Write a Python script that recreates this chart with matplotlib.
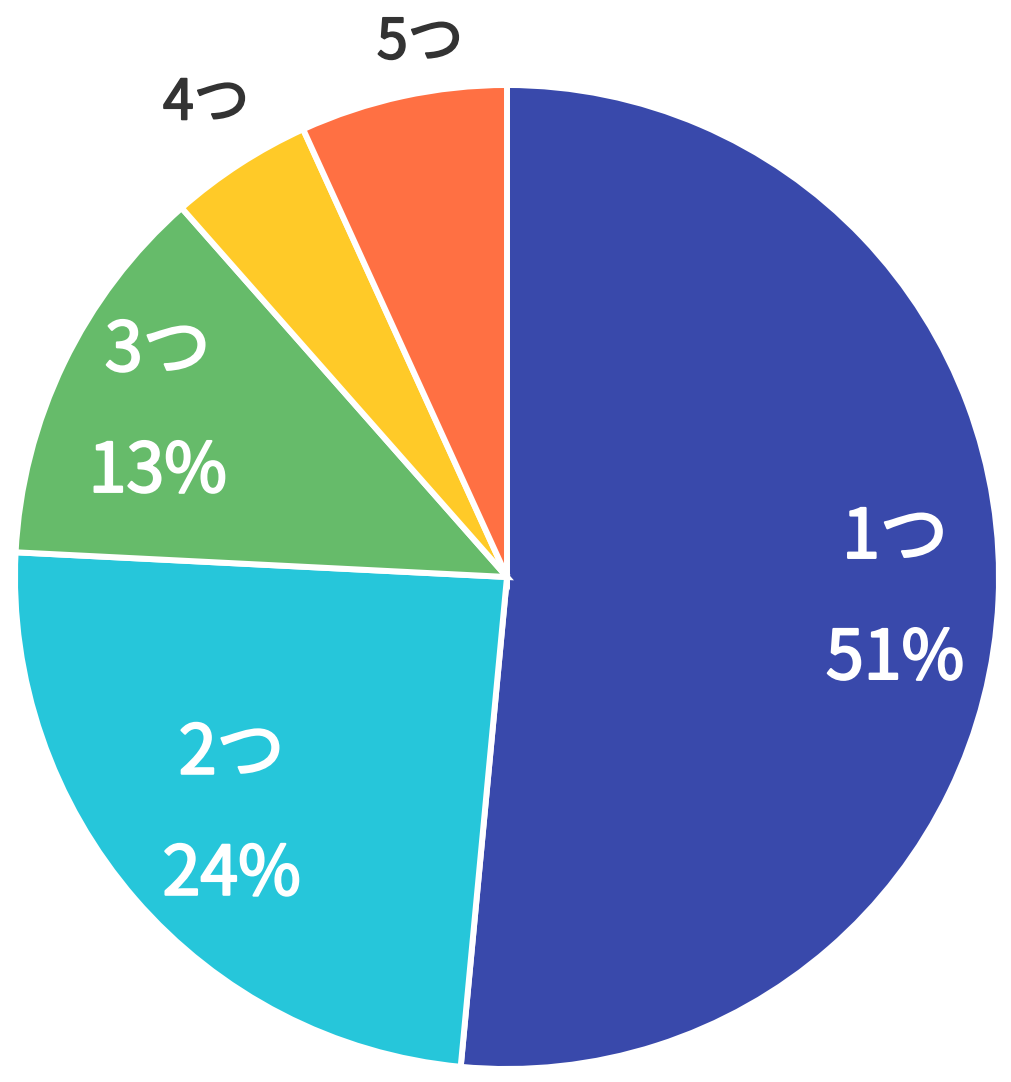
import numpy as np
import matplotlib.pyplot as plt
import matplotlib.patheffects as pe

plt.rcParams['font.family'] = ['Noto Sans CJK JP', 'DejaVu Sans']

labels = ['1つ', '2つ', '3つ', '4つ', '5つ']
values = [51.5, 24.3, 12.7, 4.7, 6.8]
pct_text = ['51%', '24%', '13%', '', '']
colors = ['#3949AB', '#26C6DA', '#66BB6A', '#FFCA28', '#FF7043']

fig = plt.figure(figsize=(10.12, 10.82), dpi=100)
ax = fig.add_axes([0, 0, 1, 1])
R = 492.0
cx, cy = 507.0, 577.0

wedges, _ = ax.pie(values, colors=colors, startangle=90, counterclock=False,
                   radius=1.0, center=(0, 0), frame=True,
                   wedgeprops=dict(edgecolor='white', linewidth=4.3))
ax.set_xlim(-cx / R, (1012 - cx) / R)
ax.set_ylim(-(1082 - cy) / R, cy / R)
ax.axis('off')

# label placement: (radius, angle shift in degrees)
place = {0: (0.79, -0.6), 1: (0.74, 0), 2: (0.785, 0.5), 3: (1.14, -0.5), 4: (1.10, -3)}

for i, w in enumerate(wedges):
    mid = (w.theta1 + w.theta2) / 2
    r, da = place[i]
    a = np.deg2rad(mid + da)
    x, y = r * np.cos(a), r * np.sin(a)
    if pct_text[i]:
        fx = [pe.withStroke(linewidth=1.6, foreground='white')]
        ax.text(x, y + 0.123, labels[i], ha='center', va='center',
                color='white', fontsize=49, path_effects=fx)
        ax.text(x, y - 0.123, pct_text[i], ha='center', va='center',
                color='white', fontsize=49, path_effects=fx)
    else:
        fx = [pe.withStroke(linewidth=1.3, foreground='#333333')]
        ax.text(x, y, labels[i], ha='center', va='center',
                color='#333333', fontsize=40, path_effects=fx)

fig.savefig('out.png', dpi=100)
